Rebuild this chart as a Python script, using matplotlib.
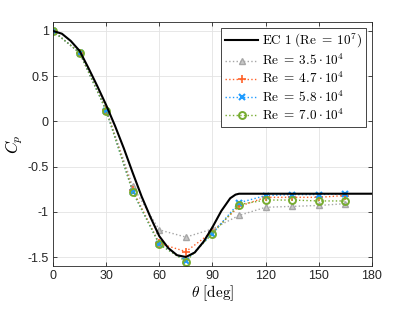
import matplotlib
matplotlib.use("Agg")
import matplotlib.pyplot as plt

plt.rcParams['mathtext.fontset'] = 'cm'
plt.rcParams['font.family'] = ['Liberation Sans', 'DejaVu Sans']

# EC 1 reference curve
ec_theta = [0, 5, 10, 15, 20, 25, 30, 35, 40, 45, 50, 55, 60, 65, 70, 75,
            80, 85, 90, 95, 100, 103, 105, 180]
ec_cp = [1.00, 0.97, 0.89, 0.78, 0.59, 0.39, 0.18, -0.05, -0.30, -0.57, -0.83,
         -1.06, -1.27, -1.40, -1.48, -1.50, -1.45, -1.33, -1.17, -0.99, -0.85,
         -0.81, -0.80, -0.80]

theta = [0, 15, 30, 45, 60, 75, 90, 105, 120, 135, 150, 165]
cp_35 = [1.00, 0.76, 0.13, -0.72, -1.20, -1.28, -1.19, -1.04, -0.95, -0.94, -0.93, -0.91]
cp_47 = [1.00, 0.76, 0.13, -0.76, -1.35, -1.44, -1.22, -0.94, -0.84, -0.84, -0.84, -0.82]
cp_58 = [1.00, 0.76, 0.12, -0.78, -1.36, -1.54, -1.24, -0.90, -0.82, -0.81, -0.81, -0.80]
cp_70 = [1.00, 0.76, 0.12, -0.78, -1.36, -1.55, -1.24, -0.92, -0.87, -0.87, -0.88, -0.88]

xticks = [0, 30, 60, 90, 120, 150, 180]
yticks = [-1.5, -1, -0.5, 0, 0.5, 1]
yticklabels = ['-1.5', '-1', '-0.5', '0', '0.5', '1']

fig = plt.figure(figsize=(4.11, 3.09), dpi=100)
ax = fig.add_axes([0.129, 0.139, 0.776, 0.790])

ax.plot(ec_theta, ec_cp, color='black', lw=1.5,
        label=r'$\mathrm{EC\ 1\ (Re}\;=\;10^7)$', zorder=5)
ax.plot(theta, cp_35, ':', color='#a6a6a6', lw=1.0, marker='^', ms=5,
        mfc='#c8c8c8', mec='#a6a6a6', label=r'$\mathrm{Re}\;=\;3.5\cdot10^4$')
ax.plot(theta, cp_47, ':', color='#ff6128', lw=1.0, marker='+', ms=6,
        mew=1.2, label=r'$\mathrm{Re}\;=\;4.7\cdot10^4$')
ax.plot(theta, cp_58, ':', color='#1e9bff', lw=1.0, marker='x', ms=4.5,
        mew=1.5, label=r'$\mathrm{Re}\;=\;5.8\cdot10^4$')
ax.plot(theta, cp_70, ':', color='#77ac30', lw=1.0, marker='o', ms=5,
        mfc='none', mew=1.4, label=r'$\mathrm{Re}\;=\;7.0\cdot10^4$')

ax.set_xlim(0, 180)
ax.set_ylim(-1.6, 1.1)
ax.set_xticks(xticks)
ax.set_xticklabels([str(t) for t in xticks])
ax.set_yticks(yticks)
ax.set_yticklabels(yticklabels)
ax.tick_params(direction='in', length=3, width=0.6, top=True, right=True,
               labelsize=9, colors='#262626', pad=3)
ax.grid(True, color='#e3e3e3', lw=0.6)
ax.set_axisbelow(True)
for s in ax.spines.values():
    s.set_color('#262626')
    s.set_linewidth(0.6)

ax.set_xlabel(r'$\theta\ \mathrm{[deg]}$', fontsize=11, labelpad=1)
ax.set_ylabel(r'$C_p$', fontsize=12, labelpad=2)

leg = ax.legend(loc='upper right', fontsize=9.5, fancybox=False,
                edgecolor='#262626', framealpha=1, handlelength=2.5,
                borderaxespad=0.45, labelspacing=0.22, handletextpad=0.3,
                borderpad=0.3)
leg.get_frame().set_linewidth(0.6)

fig.savefig('out.png', dpi=100)
